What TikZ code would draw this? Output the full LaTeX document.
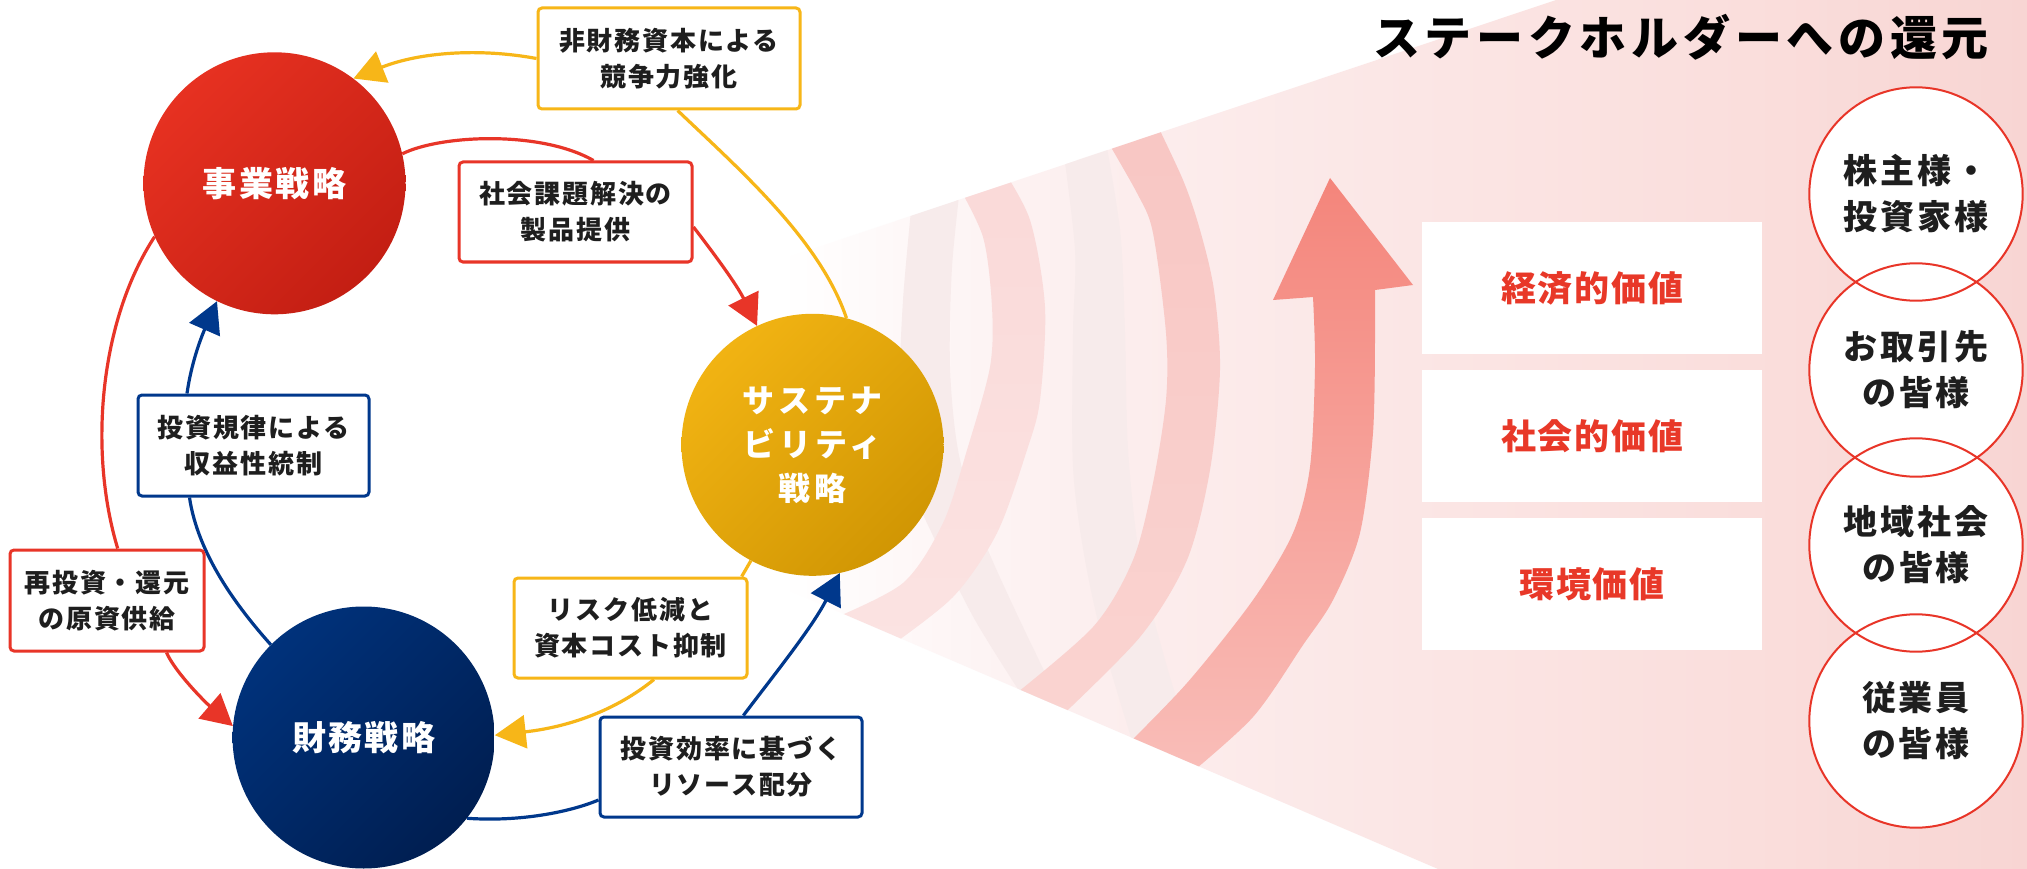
\documentclass[tikz,border=0pt]{standalone}
\usepackage{fontspec}
\setmainfont{Noto Sans CJK JP}
\usetikzlibrary{arrows.meta,shadings}
\definecolor{cyel}{RGB}{247,182,24}
\definecolor{cred}{RGB}{232,53,40}
\definecolor{cblue}{RGB}{0,56,140}
\definecolor{ctext}{RGB}{30,30,30}
\definecolor{vred}{RGB}{232,56,40}
\definecolor{bizA}{RGB}{238,53,36}
\definecolor{bizB}{RGB}{188,26,16}
\definecolor{bizM}{RGB}{213,40,26}
\definecolor{finA}{RGB}{0,54,132}
\definecolor{finB}{RGB}{0,26,72}
\definecolor{finM}{RGB}{0,40,102}
\definecolor{susA}{RGB}{248,185,22}
\definecolor{susB}{RGB}{202,144,0}
\definecolor{susM}{RGB}{225,165,11}
\definecolor{cone1}{RGB}{254,248,248}
\definecolor{cone2}{RGB}{252,238,238}
\definecolor{cone3}{RGB}{251,229,228}
\definecolor{cone4}{RGB}{250,222,220}
\definecolor{cone5}{RGB}{248,213,211}
\definecolor{fone}{RGB}{250,217,216}
\definecolor{ftwo}{RGB}{251,227,226}
\definecolor{ftwoA}{RGB}{248,198,195}
\definecolor{ftwoB}{RGB}{250,212,209}
\definecolor{arrA}{RGB}{244,133,123}
\definecolor{arrB}{RGB}{249,190,185}
\definecolor{backband}{RGB}{247,235,235}
\pgfdeclarehorizontalshading{coneshade}{100bp}{color(0bp)=(white); color(37.8bp)=(white); color(41.4bp)=(cone1); color(47.3bp)=(cone2); color(57.8bp)=(cone3); color(66.7bp)=(cone4); color(75bp)=(cone5); color(100bp)=(cone5)}
\pgfdeclarelayer{back}
\pgfdeclarelayer{lines}
\pgfsetlayers{back,lines,main}
\newcommand\boxfont{\fontsize{26}{36}\selectfont\bfseries\addfontfeature{LetterSpace=7}}
\newcommand\circfont{\fontsize{34}{44}\selectfont\bfseries\addfontfeature{LetterSpace=7}}
\newcommand\susfont{\fontsize{32}{44}\selectfont\bfseries\addfontfeature{LetterSpace=13}}
\newcommand\valfont{\fontsize{35}{44}\selectfont\bfseries\addfontfeature{LetterSpace=5}}
\newcommand\stkfont{\fontsize{34}{46}\selectfont\bfseries\addfontfeature{LetterSpace=8}}
\newcommand\ttlfont{\fontsize{47}{56}\selectfont\bfseries\addfontfeature{LetterSpace=10}}
\tikzset{
  box/.style={draw, fill=white, rounded corners=4pt, line width=3pt, align=center, inner sep=0pt, text=ctext, font=\boxfont},
  yelbox/.style={box, draw=cyel},
  redbox/.style={box, draw=cred},
  bluebox/.style={box, draw=cblue},
  bigc/.style={circle, minimum size=262pt, inner sep=0pt, text=white, align=center, font=\circfont},
  conn/.style={line width=3.2pt},
  tipped/.style={-{Triangle[length=31pt,width=33pt]}},
  valbox/.style={fill=white, minimum width=340pt, minimum height=132pt, inner sep=0pt, text=vred, font=\valfont},
  stkfill/.style={circle, fill=white, minimum size=213.4pt, inner sep=0pt},
  stk/.style={circle, draw=cred, line width=2pt, minimum size=213.4pt, inner sep=0pt, align=center, text=ctext, font=\stkfont},
}
\begin{document}
\begin{tikzpicture}[x=1pt,y=-1pt]
\useasboundingbox (0,0) rectangle (2027,869);
\begin{pgfonlayer}{back}
\fill[white] (0,0) rectangle (2027,869);
\shade[shading=coneshade] (352,403) -- (1556,0) -- (2027,0) -- (2027,869) -- (1438,869) -- cycle;
\begin{scope}
\clip (352,403) -- (1556,0) -- (2027,0) -- (2027,869) -- (1438,869) -- cycle;
% back bands
\fill[backband] plot[smooth] coordinates {(914,180) (903,300) (900,400) (910,480) (935,540) (975,620) (1025,700)} -- plot[smooth] coordinates {(1068,720) (1015,610) (980,530) (958,450) (950,367) (952,267) (962,170)} -- cycle;
\fill[backband] plot[smooth] coordinates {(1062,140) (1075,250) (1073,333) (1073,467) (1085,560) (1105,650) (1135,750)} -- plot[smooth] coordinates {(1200,775) (1165,660) (1140,560) (1128,450) (1125,333) (1120,230) (1102,120)} -- cycle;
% front bands
\shade[top color=fone, bottom color=ftwo] plot[smooth] coordinates {(830,620) (903,583) (943,523) (967,450) (990,367) (992,307) (983,237) (955,180)} -- plot[smooth] coordinates {(1000,165) (1030,220) (1045,307) (1040,400) (1027,450) (997,533) (953,597) (885,650)} -- cycle;
\shade[top color=ftwoA, bottom color=ftwoB] plot[smooth] coordinates {(1008,700) (1093,627) (1133,560) (1153,483) (1166,400) (1166,333) (1153,233) (1137,193) (1095,120)} -- plot[smooth] coordinates {(1150,110) (1183,180) (1200,230) (1214,290) (1220,370) (1210,470) (1187,560) (1140,637) (1052,725)} -- cycle;
% big arrow
\shade[top color=arrA, bottom color=arrB] plot[smooth] coordinates {(1120,752) (1187,683) (1253,600) (1293,533) (1310,467) (1315,367) (1313,297)} -- (1273,300) -- (1330,178) -- (1413,285) -- (1375,290) -- plot[smooth] coordinates {(1375,333) (1373,433) (1360,533) (1333,600) (1303,645) (1253,717) (1185,778)} -- cycle;
\end{scope}
\end{pgfonlayer}

% strategy circles
\node[bigc, upper left=bizA, lower right=bizB, upper right=bizM, lower left=bizM] (biz) at (274.5,183.3) {事業戦略};
\node[bigc, upper left=finA, lower right=finB, upper right=finM, lower left=finM] (fin) at (363.6,737.5) {財務戦略};
\node[bigc, upper left=susA, lower right=susB, upper right=susM, lower left=susM, font=\susfont] (sus) at (812.5,444.8) {サステナ\\ビリティ\\戦略};

% label boxes
\node[yelbox, minimum width=262pt, minimum height=101pt] (b1) at (669,58.5) {非財務資本による\\競争力強化};
\node[redbox, minimum width=233pt, minimum height=100pt] (b2) at (575.5,212) {社会課題解決の\\製品提供};
\node[bluebox, minimum width=231pt, minimum height=101pt] (b3) at (253.5,445.5) {投資規律による\\収益性統制};
\node[redbox, minimum width=194pt, minimum height=101pt] (b4) at (107,600.5) {再投資・還元\\の原資供給};
\node[yelbox, minimum width=233pt, minimum height=100pt] (b5) at (630.5,628) {リスク低減と\\資本コスト抑制};
\node[bluebox, minimum width=262pt, minimum height=100pt] (b6) at (731,767) {投資効率に基づく\\リソース配分};

% connectors
\begin{pgfonlayer}{lines}
\draw[conn, cyel, tipped] (b1.west) .. controls (480,48) and (420,52) .. (biz.53.6);
\draw[conn, cyel] ([xshift=8.6pt]b1.south) .. controls (740,170) and (820,240) .. (sus.75.7);
\draw[conn, cyel] (sus.242.5) -- ([xshift=111.2pt]b5.north);
\draw[conn, cyel, tipped] ([xshift=23.5pt]b5.south) .. controls (610,715) and (560,728) .. (fin.1.1);
\draw[conn, cred] (biz.13.9) .. controls (440,135) and (540,130) .. ([xshift=18pt]b2.north);
\draw[conn, cred, tipped] ([yshift=-15pt]b2.east) .. controls (715,255) and (737,285) .. (sus.115.2);
\draw[conn, cred] (biz.204.6) .. controls (100,320) and (88,450) .. ([xshift=10.7pt]b4.north);
\draw[conn, cred, tipped] ([xshift=59.5pt]b4.south) .. controls (175,672) and (205,702) .. (fin.175.9);
\draw[conn, cblue, tipped] ([xshift=-66.5pt]b3.north) .. controls (191,365) and (200,340) .. (biz.244);
\draw[conn, cblue] ([xshift=-64pt]b3.south) .. controls (198,555) and (238,608) .. (fin.135.4);
\draw[conn, cblue] (fin.322) .. controls (520,822) and (570,812) .. ([yshift=-33pt]b6.west);
\draw[conn, cblue, tipped] ([xshift=12.4pt]b6.north) .. controls (770,680) and (812,628) .. (sus.282.1);
\end{pgfonlayer}

% right panel
\node[font=\ttlfont, text=black, inner sep=0pt] (title) at (1681,37) {ステークホルダーへの還元};
\node[valbox] (v1) at (1592,288) {経済的価値};
\node[valbox] (v2) at (1592,436) {社会的価値};
\node[valbox] (v3) at (1592,584) {環境価値};

\node[stkfill] (f1) at (1916,194) {};
\node[stkfill] (f2) at (1916,370) {};
\node[stkfill] (f3) at (1916,545) {};
\node[stkfill] (f4) at (1916,721) {};
\node[stk] (s1) at (f1) {株主様・\\投資家様};
\node[stk] (s2) at (f2) {お取引先\\の皆様};
\node[stk] (s3) at (f3) {地域社会\\の皆様};
\node[stk] (s4) at (f4) {従業員\\の皆様};
\end{tikzpicture}
\end{document}
